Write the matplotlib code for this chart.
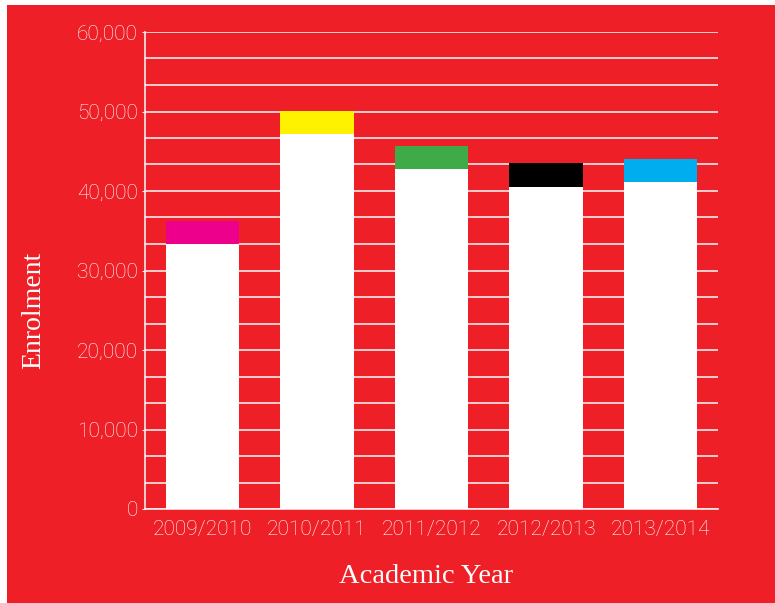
import numpy as np
import matplotlib
matplotlib.use("Agg")
import matplotlib.pyplot as plt
from matplotlib.patches import Rectangle

# enrolment per academic year: white part plus coloured top band
years = ["2009/2010", "2010/2011", "2011/2012", "2012/2013", "2013/2014"]
enrol_base = [33300, 47200, 42800, 40500, 41100]
enrol_total = [36200, 50000, 45700, 43500, 44000]
top_colors = ["#EC008C", "#FFF200", "#3FAA48", "#000000", "#00AEEF"]

RED = "#EE1F26"
LIGHT = "#FDEBEB"

fig = plt.figure(figsize=(7.75, 6.03), dpi=100, facecolor="white")
fig.patches.append(Rectangle((7/775, 0), 1, 1 - 5/603, transform=fig.transFigure,
                             facecolor=RED, edgecolor="none", zorder=-10))
ax = fig.add_axes([145/775, 94/603, 573/775, 477/603])
ax.set_facecolor(RED)

x = np.arange(len(years))
extra = np.array(enrol_total) - np.array(enrol_base)
ax.bar(x, enrol_base, width=0.64, color="white", zorder=3)
ax.bar(x, extra, bottom=enrol_base, width=0.64, color=top_colors, zorder=3)

ax.set_xlim(-0.5, len(years) - 0.5)
ax.set_ylim(0, 60000)
ax.set_yticks(np.arange(0, 60001, 10000))
ax.set_yticks(np.linspace(0, 60000, 19), minor=True)   # grid every third of 10,000
ax.set_yticklabels([f"{v:,}" for v in range(0, 60001, 10000)])
ax.set_xticks(x)
ax.set_xticklabels(years)

ax.grid(axis="y", which="both", color=LIGHT, lw=1.2, zorder=1)
ax.set_axisbelow(True)
for s in ("top", "right"):
    ax.spines[s].set_visible(False)
for s in ("left", "bottom"):
    ax.spines[s].set_color(LIGHT)
    ax.spines[s].set_linewidth(1.2)

ax.tick_params(axis="y", which="major", length=2, color=LIGHT, pad=3, labelcolor="white")
ax.tick_params(axis="y", which="minor", length=0)
ax.tick_params(axis="x", length=0, pad=8, labelcolor="white")
for lab in ax.get_xticklabels() + ax.get_yticklabels():
    lab.set_fontfamily(["Roboto", "DejaVu Sans"])
    lab.set_fontweight("light")
    lab.set_fontsize(15)

ax.set_xlabel("Academic Year", family="Liberation Serif", fontsize=20.5,
              color="white", labelpad=15)
ax.set_ylabel("Enrolment", family="Liberation Serif", fontsize=20,
              color="white", labelpad=22)
ax.xaxis.set_label_coords(0.49, -0.115)
ax.yaxis.label.set_y(0.417)

fig.savefig("out.png", dpi=100, facecolor=fig.get_facecolor())
